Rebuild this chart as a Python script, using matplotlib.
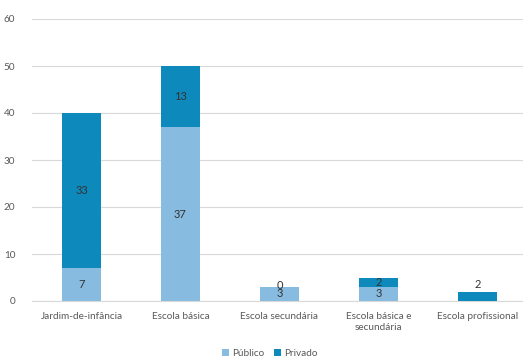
import numpy as np
import matplotlib
matplotlib.use("Agg")
import matplotlib.pyplot as plt

# ---------------- Data ----------------
categories = ["Jardim-de-infância", "Escola básica", "Escola secundária",
              "Escola básica e\nsecundária", "Escola profissional"]
publico = [7, 37, 3, 3, 0]
privado = [33, 13, 0, 2, 2]

C_PUB = "#88BBE0"
C_PRIV = "#0E89BC"
TXT = "#333333"
GRAY = "#595959"

plt.rcParams["font.family"] = ["Lato", "DejaVu Sans"]

fig = plt.figure(figsize=(5.23, 3.58), dpi=100)
ax = fig.add_axes([32 / 523, 1 - 301 / 358, 1 - 32 / 523, (301 - 19) / 358])

x = np.arange(len(categories))
w = 0.39
ax.bar(x, publico, w, color=C_PUB, label="Público", zorder=3)
ax.bar(x, privado, w, bottom=publico, color=C_PRIV, label="Privado", zorder=3)

# data labels (Excel style: centered, zero Público hidden)
for i in range(len(categories)):
    if publico[i] > 0:
        ax.text(x[i], publico[i] / 2, str(publico[i]), ha="center", va="center",
                fontsize=8, color=TXT, zorder=4)
    if privado[i] > 0 or publico[i] > 0:
        yy = publico[i] + privado[i] / 2
        if publico[i] == 0:
            yy = privado[i] + 1.6
        elif privado[i] == 0:
            yy = publico[i] + 0.3
        ax.text(x[i], yy, str(privado[i]), ha="center", va="center",
                fontsize=8, color=TXT, zorder=4)

ax.set_ylim(0, 60)
ax.set_yticks(range(0, 61, 10))
ax.set_xlim(-0.5, 4.46)
ax.set_xticks(x)
ax.set_xticklabels(categories, fontsize=7.2, color=GRAY)
ax.tick_params(axis="y", labelsize=7.2, colors=GRAY, length=0, pad=12)
ax.tick_params(axis="x", length=0, pad=8)
ax.grid(axis="y", color="#D9D9D9", linewidth=0.8, zorder=0)
for s in ["top", "right", "left"]:
    ax.spines[s].set_visible(False)
ax.spines["bottom"].set_color("#D9D9D9")
ax.spines["bottom"].set_linewidth(0.8)

fig.legend(loc="lower center", bbox_to_anchor=(270 / 523, -0.025), ncol=2,
           frameon=False, fontsize=7.2, handlelength=0.7, handleheight=0.7,
           handletextpad=0.3, columnspacing=1.0, labelcolor=GRAY)

fig.savefig("out.png", dpi=100)
